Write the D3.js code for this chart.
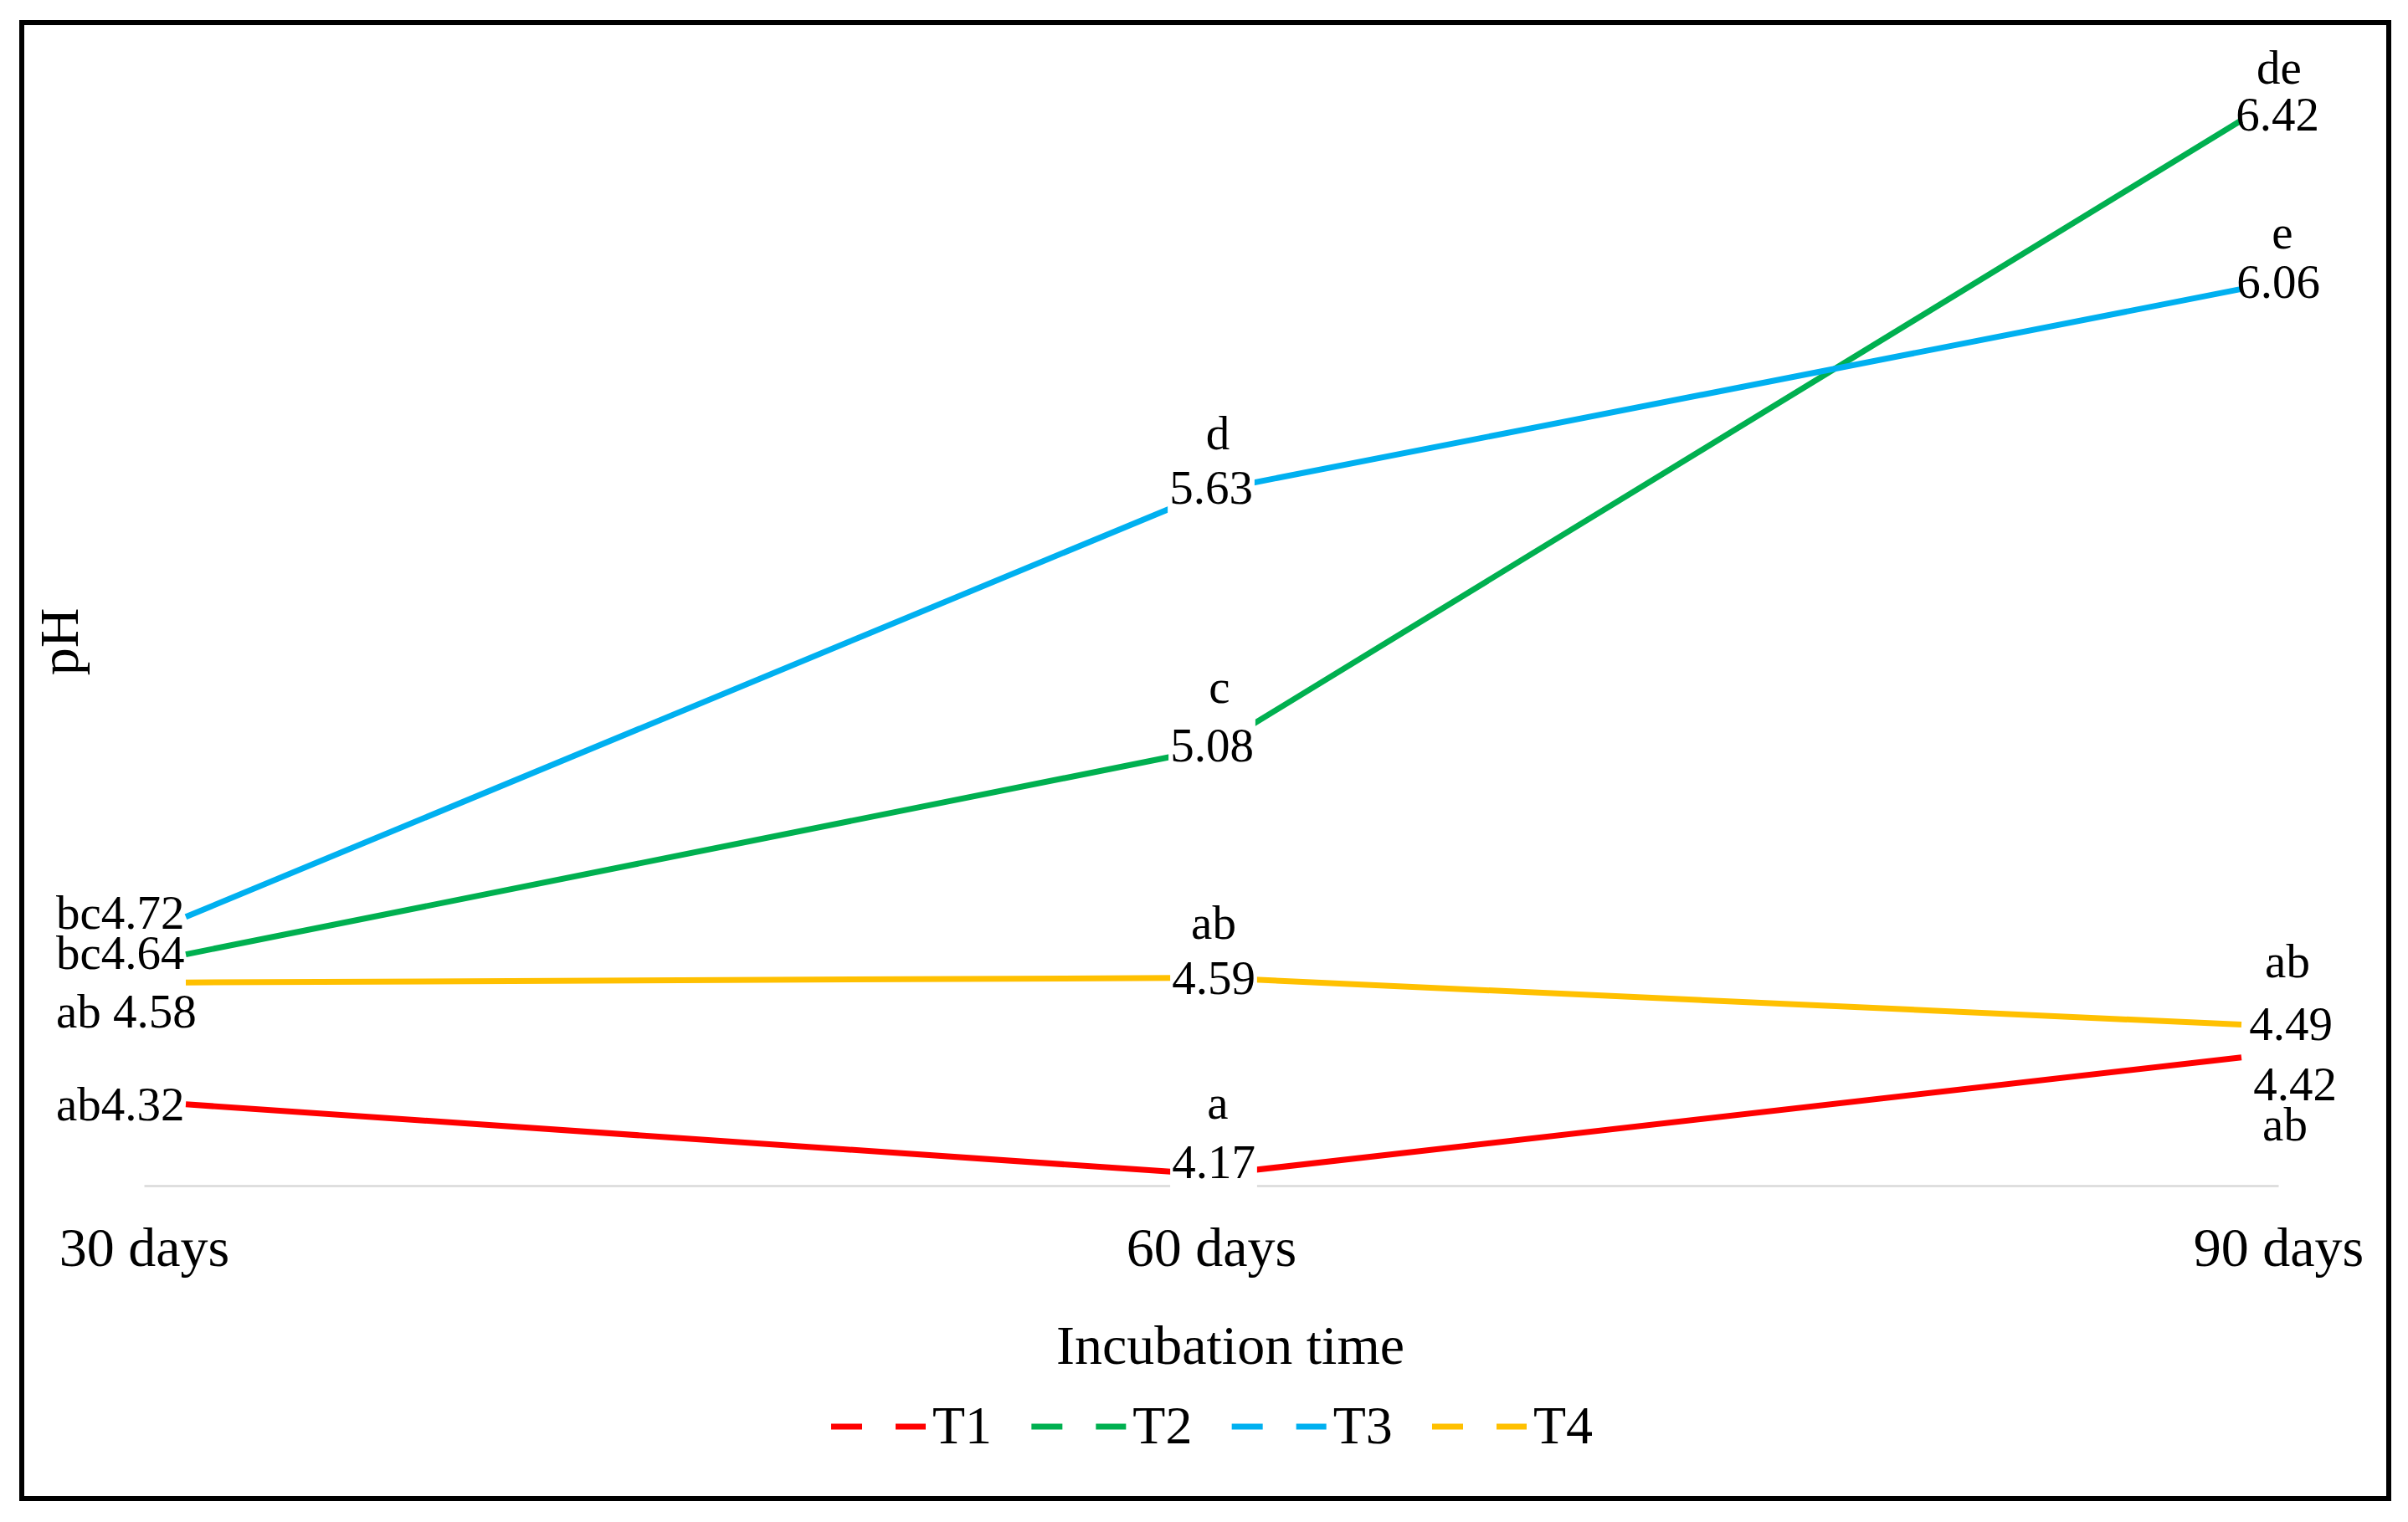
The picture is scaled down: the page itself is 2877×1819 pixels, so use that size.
<!DOCTYPE html>
<html>
<head>
<meta charset="utf-8">
<script src="https://cdn.jsdelivr.net/npm/d3@7"></script>
<style>
  html, body { margin: 0; padding: 0; background: #ffffff; }
  svg { display: block; }
  text { font-family: "Liberation Serif", "Times New Roman", serif; fill: #000; }
</style>
</head>
<body>
<svg id="chart" width="2877" height="1819"></svg>
<script>
// ---------------- data ----------------
const categories = ["30 days", "60 days", "90 days"];
const seriesNames = ["T1", "T2", "T3", "T4"];
const T1 = [4.32, 4.17, 4.42];
const T2 = [4.64, 5.08, 6.42];
const T3 = [4.72, 5.63, 6.06];
const T4 = [4.58, 4.59, 4.49];
const T1_letters = ["ab", "a", "ab"];
const T2_letters = ["bc", "c", "de"];
const T3_letters = ["bc", "d", "e"];
const T4_letters = ["ab", "ab", "ab"];
const seriesColors = ["#FF0000", "#00B050", "#00B0F0", "#FFC000"];
const xAxisTitle = "Incubation time";
const yAxisTitle = "pH";

const seriesValues = [T1, T2, T3, T4];
const seriesLetters = [T1_letters, T2_letters, T3_letters, T4_letters];

// ---------------- layout ----------------
const svg = d3.select("#chart");

// outer frame
svg.append("rect")
  .attr("x", 26).attr("y", 27).attr("width", 2828).attr("height", 1764)
  .attr("fill", "none").attr("stroke", "#000").attr("stroke-width", 6);

// scales
const xPts = d3.scalePoint().domain(categories).range([222, 2678]);
const xAx = d3.scalePoint().domain(categories).range([172, 2722]);
const y = d3.scaleLinear().domain([4.15, 6.5]).range([1415, 99]);

// x axis (baseline + category labels)
const axisG = svg.append("g").attr("transform", `translate(0,${1417})`)
  .call(d3.axisBottom(xAx).tickSize(0).tickSizeOuter(0).tickPadding(49));
axisG.select(".domain").attr("stroke", "#d9d9d9").attr("stroke-width", 2.5);
axisG.selectAll(".tick text")
  .style("font-family", '"Liberation Serif", "Times New Roman", serif')
  .attr("font-size", 66).attr("fill", "#000");

// axis titles
svg.append("text")
  .attr("x", 1470).attr("y", 1630)
  .attr("text-anchor", "middle").attr("font-size", 66)
  .text(xAxisTitle);
svg.append("text")
  .attr("transform", "translate(93,767) rotate(-90)")
  .attr("text-anchor", "middle").attr("font-size", 66)
  .text(yAxisTitle);

// lines
const line = d3.line()
  .x((d, i) => xPts(categories[i]))
  .y(d => y(d));

seriesValues.forEach((vals, s) => {
  svg.append("path")
    .datum(vals)
    .attr("fill", "none")
    .attr("stroke", seriesColors[s])
    .attr("stroke-width", 7)
    .attr("stroke-linejoin", "round")
    .attr("d", line);
});

// data-label placement (offsets from each point, in px) : [series][category]
const LBL = 57;
const layout = [
  // T1
  [ {mode: "inline", x: -155, y: 19, sep: ""},
    {mode: "stack", nx: 0, ny: 4, lx: 5, ly: -67},
    {mode: "stack", nx: 64, ny: 51, lx: 52, ly: 99} ],
  // T2
  [ {mode: "inline", x: -155, y: 17, sep: ""},
    {mode: "stack", nx: -2, ny: 16, lx: 7, ly: -54},
    {mode: "stack", nx: 43, ny: 12, lx: 45, ly: -44} ],
  // T3
  [ {mode: "inline", x: -155, y: 14, sep: ""},
    {mode: "stack", nx: -3, ny: 16, lx: 5, ly: -49},
    {mode: "stack", nx: 44, ny: 11, lx: 49, ly: -48} ],
  // T4
  [ {mode: "inline", x: -155, y: 54, sep: " "},
    {mode: "stack", nx: 0, ny: 19, lx: 0, ly: -47},
    {mode: "stack", nx: 59, ny: 18, lx: 55, ly: -57} ]
];

const labelLayer = svg.append("g");
seriesValues.forEach((vals, s) => {
  vals.forEach((v, c) => {
    const px = xPts(categories[c]);
    const py = y(v);
    const L = layout[s][c];
    const num = v.toFixed(2);
    const letter = seriesLetters[s][c];
    if (L.mode === "inline") {
      labelLayer.append("text")
        .attr("x", px + L.x).attr("y", py + L.y)
        .attr("font-size", LBL).attr("text-anchor", "start")
        .text(letter + L.sep + num);
    } else {
      const g = labelLayer.append("g");
      const t = g.append("text")
        .attr("x", px + L.nx).attr("y", py + L.ny)
        .attr("font-size", LBL).attr("text-anchor", "middle")
        .text(num);
      if (c === 1) {
        const bb = t.node().getBBox();
        g.insert("rect", "text")
          .attr("x", bb.x - 2).attr("y", bb.y)
          .attr("width", bb.width + 4).attr("height", bb.height)
          .attr("fill", "#fff");
      }
      g.append("text")
        .attr("x", px + L.lx).attr("y", py + L.ly)
        .attr("font-size", LBL).attr("text-anchor", "middle")
        .text(letter);
    }
  });
});

// legend
const legendX = d3.scalePoint().domain(seriesNames).range([993, 1711]);
const leg = svg.append("g");
seriesNames.forEach((name, i) => {
  const x0 = legendX(name);
  leg.append("line")
    .attr("x1", x0).attr("x2", x0 + 113)
    .attr("y1", 1705).attr("y2", 1705)
    .attr("stroke", seriesColors[i]).attr("stroke-width", 7)
    .attr("stroke-dasharray", "37,40");
  leg.append("text")
    .attr("x", x0 + 121).attr("y", 1725)
    .attr("font-size", 64)
    .text(name);
});
</script>
</body>
</html>
